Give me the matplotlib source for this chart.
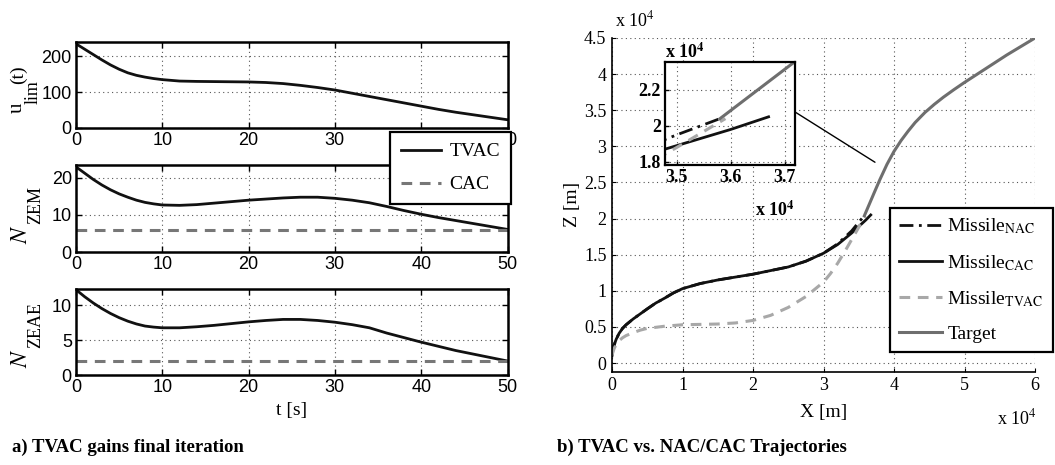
import matplotlib
matplotlib.use("Agg")
from matplotlib import pyplot as plt
from matplotlib.patches import ConnectionPatch
from matplotlib.ticker import FormatStrFormatter

plt.rcParams['mathtext.fontset'] = 'stix'
SANS = 'Liberation Sans'
SERIF = 'Liberation Serif'

# ---- panel a) TVAC gains, final iteration ----
t = [0, 1, 2, 3, 4, 5, 6, 7, 8, 9, 10, 12, 14, 16, 18, 20, 22, 24, 26, 28,
     30, 32, 34, 36, 38, 40, 42, 44, 46, 48, 50]
u_lim = [235, 220, 205, 190, 176, 164, 154, 147, 142, 138, 135, 131, 130, 129.5,
         129, 128.5, 127, 124, 119, 113, 106, 97, 88, 79, 70, 61, 52, 44, 37, 30, 23]
n_zem_tvac = [23, 21.3, 19.6, 18.1, 16.8, 15.7, 14.8, 14.0, 13.4, 13.0, 12.7, 12.6,
              12.8, 13.2, 13.6, 14.0, 14.3, 14.6, 14.8, 14.8, 14.5, 14.0, 13.3,
              12.3, 11.2, 10.2, 9.3, 8.5, 7.7, 6.9, 6.1]
n_zem_cac = 6
n_zeae_tvac = [12.2, 11.2, 10.3, 9.5, 8.8, 8.2, 7.7, 7.3, 7.0, 6.85, 6.75, 6.75,
               6.9, 7.1, 7.35, 7.6, 7.8, 7.95, 7.95, 7.8, 7.55, 7.2, 6.75, 6.0,
               5.35, 4.7, 4.1, 3.5, 3.0, 2.5, 2.0]
n_zeae_cac = 2

# ---- panel b) trajectories (x, z in units of 1e4 m) ----
x_cac = [0, 0.01, 0.03, 0.06, 0.1, 0.15, 0.2, 0.3, 0.4, 0.5, 0.62, 0.75, 0.87, 1.0,
         1.25, 1.5, 1.75, 2.0, 2.25, 2.5, 2.75, 3.0, 3.2, 3.4, 3.5, 3.6, 3.67]
z_cac = [0.1, 0.17, 0.25, 0.33, 0.41, 0.48, 0.53, 0.61, 0.68, 0.75, 0.83, 0.9, 0.97,
         1.03, 1.1, 1.15, 1.19, 1.23, 1.28, 1.33, 1.41, 1.52, 1.64, 1.8, 1.89, 1.98, 2.05]
x_nac = [0, 0.01, 0.03, 0.06, 0.1, 0.15, 0.2, 0.3, 0.4, 0.5, 0.62, 0.75, 0.87, 1.0,
         1.25, 1.5, 1.75, 2.0, 2.25, 2.5, 2.75, 3.0, 3.2, 3.4, 3.5, 3.58]
z_nac = [0.1, 0.17, 0.25, 0.33, 0.41, 0.48, 0.53, 0.61, 0.68, 0.75, 0.83, 0.9, 0.97,
         1.03, 1.1, 1.15, 1.19, 1.23, 1.28, 1.33, 1.41, 1.52, 1.65, 1.83, 1.95, 2.04]
x_tvac = [0, 0.01, 0.03, 0.06, 0.1, 0.15, 0.2, 0.3, 0.4, 0.5, 0.75, 1.0, 1.25, 1.5,
          1.75, 2.0, 2.25, 2.5, 2.75, 3.0, 3.1, 3.2, 3.3, 3.4, 3.5, 3.59]
z_tvac = [0.1, 0.14, 0.2, 0.26, 0.31, 0.35, 0.38, 0.42, 0.455, 0.48, 0.51, 0.53,
          0.535, 0.54, 0.555, 0.59, 0.66, 0.77, 0.92, 1.12, 1.24, 1.38, 1.54, 1.71,
          1.88, 2.04]
x_target = [3.58, 3.65, 3.72, 3.8, 3.9, 4.0, 4.1, 4.2, 4.3, 4.44, 4.57, 4.7, 4.85,
            5.0, 5.3, 5.6, 6.0]
z_target = [2.04, 2.2, 2.36, 2.54, 2.75, 2.93, 3.08, 3.21, 3.33, 3.47, 3.58, 3.68,
            3.785, 3.885, 4.075, 4.265, 4.5]

fig = plt.figure(figsize=(10.55, 4.65), dpi=100)

W, H = 1055, 465


def box(l, t_, r, b):
    return [l / W, 1 - b / H, (r - l) / W, (b - t_) / H]


def vtext(x, y, s, size, **kw):
    # rotated label piece placed in figure pixels
    fig.text(x / W, 1 - y / H, s, fontsize=size, rotation=90, ha='center',
             va='center', family=SERIF, **kw)


grid_kw = dict(color='#555555', linestyle=(0, (1, 3)), linewidth=0.8)

ax1 = fig.add_axes(box(76, 42, 507.5, 128))
ax2 = fig.add_axes(box(76, 165, 507.5, 252))
ax3 = fig.add_axes(box(76, 289, 507.5, 375))

l_tvac, = ax1.plot(t, u_lim, color='#111111', lw=2)
ax2.plot(t, n_zem_tvac, color='#111111', lw=2)
l_cac, = ax2.plot([t[0], t[-1]], [n_zem_cac, n_zem_cac], color='#777777', lw=2.2,
                  linestyle=(0, (3.5, 2.5)))
ax3.plot(t, n_zeae_tvac, color='#111111', lw=2)
ax3.plot([t[0], t[-1]], [n_zeae_cac, n_zeae_cac], color='#777777', lw=2.2,
         linestyle=(0, (3.5, 2.5)))

ax1.set_ylim(0, 240)
ax1.set_yticks([0, 100, 200])
ax2.set_ylim(0, 23.5)
ax2.set_yticks([0, 10, 20])
ax3.set_ylim(0, 12.3)
ax3.set_yticks([0, 5, 10])

for ax in (ax1, ax2, ax3):
    ax.set_xlim(0, 50)
    ax.set_xticks([0, 10, 20, 30, 40, 50])
    ax.grid(True, **grid_kw)
    ax.tick_params(direction='in', length=4, width=1, labelsize=13, pad=3,
                   top=True, right=True)
    for lab in ax.get_xticklabels() + ax.get_yticklabels():
        lab.set_fontfamily(SANS)
    for s in ax.spines.values():
        s.set_linewidth(1.8)

# y labels with the deep subscripts of the original
vtext(17.5, 108, 'u', 15)
vtext(33.5, 92, 'lim', 13)
vtext(18, 75, '(t)', 14)
vtext(21.5, 234, r'$N$', 17)
vtext(36, 205.5, 'ZEM', 13)
vtext(21.5, 358, r'$N$', 17)
vtext(36, 324.5, 'ZEAE', 13)

ax3.set_xlabel('t [s]', fontsize=14, family=SERIF, labelpad=4)

leg1 = fig.legend([l_tvac, l_cac], ['TVAC', 'CAC'], loc='upper left',
                  bbox_to_anchor=(390 / W, 1 - 132 / H), prop={'family': SERIF, 'size': 14},
                  frameon=True, fancybox=False, edgecolor='black', framealpha=1,
                  handlelength=2.05, handletextpad=0.45, borderpad=0.55,
                  labelspacing=0.8, borderaxespad=0)
leg1.get_frame().set_linewidth(1.6)

# ---- right panel ----
axr = fig.add_axes(box(612, 38, 1035, 371.7))
h_nac, = axr.plot(x_nac, z_nac, color='#111111', lw=2, linestyle=(0, (5, 2, 1, 2)))
h_cac, = axr.plot(x_cac, z_cac, color='#111111', lw=2)
h_tvac, = axr.plot(x_tvac, z_tvac, color='#a8a8a8', lw=2.2, linestyle=(0, (3.5, 2.5)))
h_tgt, = axr.plot(x_target, z_target, color='#6e6e6e', lw=2.2)

axr.set_xlim(0, 6)
axr.set_ylim(-0.12, 4.5)
axr.set_xticks(range(0, 7))
axr.set_yticks([0, 0.5, 1, 1.5, 2, 2.5, 3, 3.5, 4, 4.5])
axr.yaxis.set_major_formatter(FormatStrFormatter('%g'))
axr.grid(True, **grid_kw)
axr.spines['top'].set_visible(False)
axr.spines['right'].set_visible(False)
axr.spines['left'].set_linewidth(1.2)
axr.spines['bottom'].set_linewidth(1.2)
axr.tick_params(direction='in', length=3, width=0.8, labelsize=13, pad=4)
for lab in axr.get_xticklabels() + axr.get_yticklabels():
    lab.set_fontfamily(SERIF)
axr.set_xlabel('X [m]', fontsize=14, family=SERIF, labelpad=7)
axr.set_ylabel('Z [m]', fontsize=14, family=SERIF, labelpad=2)
fig.text(615 / W, 1 - 20 / H, r'x 10$^4$', fontsize=13, family=SERIF, va='center')
fig.text(997 / W, 1 - 418 / H, r'x 10$^4$', fontsize=13, family=SERIF, va='center')

leg2 = fig.legend([h_nac, h_cac, h_tvac, h_tgt],
                  [r'Missile$_{\mathrm{NAC}}$', r'Missile$_{\mathrm{CAC}}$',
                   r'Missile$_{\mathrm{TVAC}}$', 'Target'],
                  loc='upper left', bbox_to_anchor=(890 / W, 1 - 208 / H),
                  prop={'family': SERIF, 'size': 14}, frameon=True, fancybox=False,
                  edgecolor='black', framealpha=1, handlelength=2.2, handletextpad=0.3,
                  borderpad=0.45, labelspacing=0.85, borderaxespad=0)
leg2.get_frame().set_linewidth(1.6)

# ---- inset zoom ----
axi = fig.add_axes(box(665, 62, 795, 165))
axi.plot(x_nac, z_nac, color='#111111', lw=2, linestyle=(0, (5, 2, 1, 2)))
axi.plot(x_cac, z_cac, color='#111111', lw=2)
axi.plot(x_tvac, z_tvac, color='#a8a8a8', lw=2.2, linestyle=(0, (3.5, 2.5)))
axi.plot(x_target, z_target, color='#6e6e6e', lw=2.2)
axi.set_xlim(3.478, 3.719)
axi.set_ylim(1.782, 2.355)
axi.set_xticks([3.5, 3.6, 3.7])
axi.set_yticks([1.8, 2.0, 2.2])
axi.yaxis.set_major_formatter(FormatStrFormatter('%g'))
axi.grid(True, **grid_kw)
axi.tick_params(direction='in', length=3, width=1, labelsize=13, pad=3)
for lab in axi.get_xticklabels() + axi.get_yticklabels():
    lab.set_fontfamily(SERIF)
    lab.set_fontweight('bold')
for s in axi.spines.values():
    s.set_linewidth(1.6)
fig.text(665 / W, 1 - 52 / H, r'x 10$^{\mathbf{4}}$', fontsize=13, family=SERIF,
         fontweight='bold', va='center')
fig.text(755 / W, 1 - 210 / H, r'x 10$^{\mathbf{4}}$', fontsize=13, family=SERIF,
         fontweight='bold', va='center')

con = ConnectionPatch(xyA=(1.0, 0.515), coordsA=axi.transAxes,
                      xyB=(3.73, 2.78), coordsB=axr.transData,
                      color='black', lw=1)
fig.add_artist(con)

# ---- captions ----
fig.text(12 / W, 1 - 447 / H, 'a) TVAC gains final iteration', fontsize=13.5,
         family=SERIF, fontweight='bold', va='center')
fig.text(557 / W, 1 - 447 / H, 'b) TVAC vs. NAC/CAC Trajectories', fontsize=13.5,
         family=SERIF, fontweight='bold', va='center')

fig.savefig('out.png', dpi=100)
